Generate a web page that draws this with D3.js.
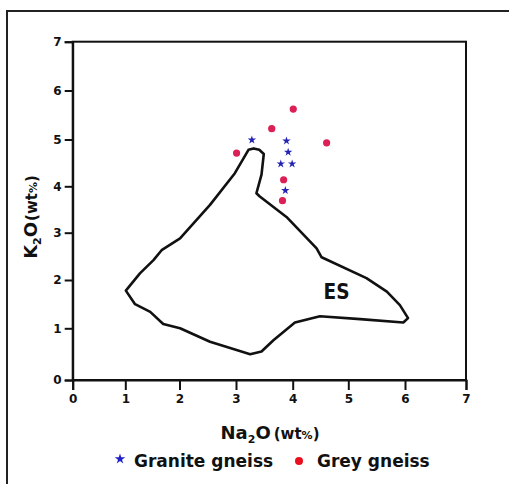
<!DOCTYPE html>
<html>
<head>
<meta charset="utf-8">
<script src="https://cdn.jsdelivr.net/npm/d3@7/dist/d3.min.js"></script>
<style>
  html, body { margin: 0; padding: 0; background: #fff; }
  svg { display: block; }
  text { font-family: "DejaVu Sans", sans-serif; font-weight: bold; fill: #111; }
</style>
</head>
<body>
<svg id="chart" width="509" height="484"></svg>
<script>
// Na2O vs K2O (wt%) discrimination plot with the ES field outline
const xTicks = [0, 1, 2, 3, 4, 5, 6, 7];
const yTicks = [0, 1, 2, 3, 4, 5, 6, 7];

// ES field boundary (Na2O, K2O)
const esNa2O = [3.31, 3.41, 3.49, 3.45, 3.36, 3.42, 3.89, 4.43, 4.52, 5.32, 5.68, 5.91, 6.05, 5.97, 5.21, 4.49, 4.04, 3.66, 3.45, 3.25, 3.01, 2.54, 2.01, 1.70, 1.46, 1.18, 1.01, 1.27, 1.52, 1.67, 2.01, 2.54, 2.98, 3.22];
const esK2O  = [4.81, 4.78, 4.69, 4.25, 3.85, 3.78, 3.34, 2.67, 2.48, 2.04, 1.76, 1.48, 1.21, 1.12, 1.19, 1.25, 1.12, 0.77, 0.55, 0.50, 0.58, 0.74, 1.00, 1.09, 1.34, 1.50, 1.78, 2.14, 2.42, 2.63, 2.88, 3.60, 4.28, 4.78];

// Granite gneiss samples
const graniteNa2O = [3.28, 3.89, 3.92, 3.79, 3.99, 3.87];
const graniteK2O  = [4.99, 4.97, 4.73, 4.48, 4.48, 3.91];

// Grey gneiss samples
const greyNa2O = [3.01, 4.01, 3.63, 4.61, 3.84, 3.82];
const greyK2O  = [4.71, 5.62, 5.22, 4.93, 4.14, 3.69];

const svg = d3.select("#chart");

// outer panel border
svg.append("rect")
  .attr("x", 7).attr("y", 11)
  .attr("width", 540).attr("height", 520)
  .attr("fill", "none").attr("stroke", "#222").attr("stroke-width", 2);

const x = d3.scaleLinear().domain(xTicks).range([72.7, 125.3, 179.5, 236, 292.7, 348.3, 405, 466]);
const y = d3.scaleLinear().domain(yTicks).range([380, 328.3, 280, 232.7, 186.3, 139.5, 90.5, 41.7]);

// plot box
svg.append("rect")
  .attr("x", x(0)).attr("y", y(7))
  .attr("width", x(7) - x(0)).attr("height", y(0) - y(7))
  .attr("fill", "none").attr("stroke", "#111").attr("stroke-width", 2);

const xAxis = svg.append("g")
  .attr("transform", `translate(0,${y(0)})`)
  .call(d3.axisBottom(x).tickValues(xTicks).tickFormat(d3.format("d")).tickSize(10).tickPadding(4));
const yAxis = svg.append("g")
  .attr("transform", `translate(${x(0)},0)`)
  .call(d3.axisLeft(y).tickValues(yTicks).tickFormat(d3.format("d")).tickSize(8).tickPadding(3));

[xAxis, yAxis].forEach(g => {
  g.select(".domain").attr("stroke", "#111").attr("stroke-width", 2);
  g.selectAll(".tick line").attr("stroke", "#111").attr("stroke-width", 2);
  g.selectAll(".tick text")
    .attr("font-family", "'DejaVu Sans', sans-serif")
    .attr("font-weight", "bold")
    .attr("font-size", 12)
    .attr("fill", "#111");
});

// ES field
const line = d3.line().x(d => x(d[0])).y(d => y(d[1]));
svg.append("path")
  .attr("d", line(d3.zip(esNa2O, esK2O)) + "Z")
  .attr("fill", "none")
  .attr("stroke", "#111")
  .attr("stroke-width", 2.6)
  .attr("stroke-linejoin", "round");

svg.append("text")
  .attr("x", x(4.79)).attr("y", y(1.77))
  .attr("text-anchor", "middle").attr("dominant-baseline", "central")
  .attr("font-size", 22)
  .attr("textLength", 26)
  .attr("lengthAdjust", "spacingAndGlyphs")
  .text("ES");

// samples
svg.append("g").selectAll("circle")
  .data(d3.zip(greyNa2O, greyK2O))
  .join("circle")
  .attr("cx", d => x(d[0])).attr("cy", d => y(d[1]))
  .attr("r", 3.6)
  .attr("fill", "#dc1f55");

const star = d3.symbol().type(d3.symbolStar).size(22);
svg.append("g").selectAll("path")
  .data(d3.zip(graniteNa2O, graniteK2O))
  .join("path")
  .attr("transform", d => `translate(${x(d[0])},${y(d[1])})`)
  .attr("d", star)
  .attr("fill", "#2424b4");

// axis titles
const xt = svg.append("text")
  .attr("x", 270).attr("y", 439)
  .attr("text-anchor", "middle")
  .attr("font-size", 18);
xt.append("tspan").text("Na");
xt.append("tspan").attr("font-size", 11).attr("dy", 4).text("2");
xt.append("tspan").attr("dy", -4).text("O");
xt.append("tspan").attr("font-size", 15).attr("dx", 3).text("(wt");
xt.append("tspan").attr("font-size", 11).text("%");
xt.append("tspan").attr("font-size", 15).text(")");

const yt = svg.append("text")
  .attr("transform", "translate(37,217) rotate(-90)")
  .attr("text-anchor", "middle")
  .attr("font-size", 18);
yt.append("tspan").text("K");
yt.append("tspan").attr("font-size", 11).attr("dy", 4).text("2");
yt.append("tspan").attr("dy", -4).text("O");
yt.append("tspan").attr("font-size", 15).attr("dx", 1).text("(wt");
yt.append("tspan").attr("font-size", 11).text("%");
yt.append("tspan").attr("font-size", 15).text(")");

// legend
const legend = svg.append("g");
legend.append("path")
  .attr("transform", "translate(120,459)")
  .attr("d", d3.symbol().type(d3.symbolStar).size(34))
  .attr("fill", "#2020c8");
legend.append("text")
  .attr("x", 134).attr("y", 467)
  .attr("font-size", 17)
  .text("Granite gneiss");
legend.append("circle")
  .attr("cx", 299).attr("cy", 461).attr("r", 4)
  .attr("fill", "#e8101e");
legend.append("text")
  .attr("x", 317).attr("y", 467)
  .attr("font-size", 17)
  .text("Grey gneiss");
</script>
</body>
</html>
